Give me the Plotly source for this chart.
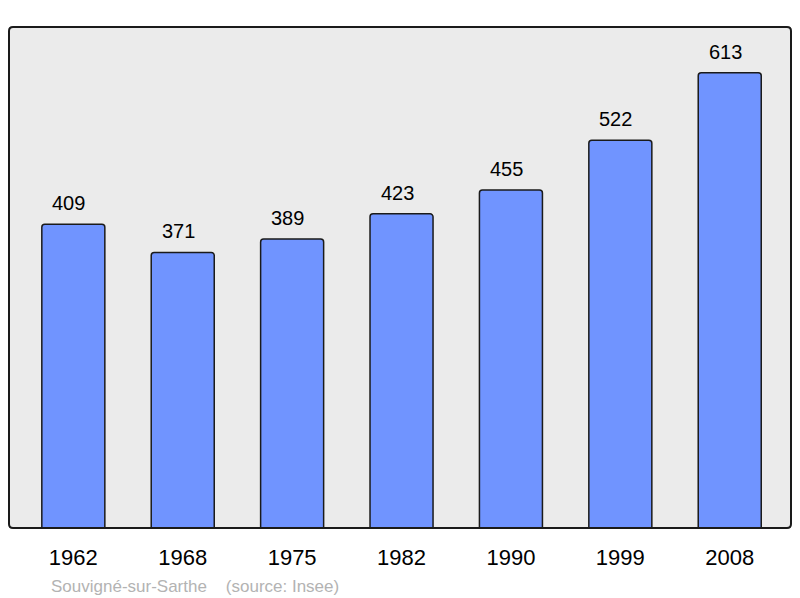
import plotly.graph_objects as go

years = ["1962", "1968", "1975", "1982", "1990", "1999", "2008"]
population = [409, 371, 389, 423, 455, 522, 613]
caption = "Souvigné-sur-Sarthe    (source: Insee)"

OFF = 8  # page body margin
W, H = 800 - OFF, 598 - OFF
L, R, T, B = 9 - OFF, 9, 27 - OFF, 70
pw, ph = W - L - R, H - T - B

FONT = "Liberation Sans, Arial, sans-serif"

fig = go.Figure()
fig.add_trace(go.Bar(
    x=years, y=population, width=0.576,
    marker=dict(color="#7094ff", line=dict(color="#1a1a1a", width=1.5), cornerradius=3),
    hoverinfo="skip",
))

annotations = []
for i, v in enumerate(population):
    annotations.append(dict(
        x=i, y=v, xref="x", yref="y", text=str(v), showarrow=False,
        yanchor="bottom", yshift=8, xshift=-4.5,
        font=dict(family=FONT, size=20, color="#000"),
    ))
annotations.append(dict(
    x=(48.5 - 9) / pw, y=(528 - 586) / ph, xref="paper", yref="paper",
    text=caption, showarrow=False, xanchor="left", yanchor="middle",
    font=dict(family=FONT, size=17, color="#b3b3b3"),
))

# rounded frame in paper coordinates
r = 4
rx, ry = r / pw, r / ph
path = (f"M {rx},0 L {1-rx},0 Q 1,0 1,{ry} L 1,{1-ry} Q 1,1 {1-rx},1 "
        f"L {rx},1 Q 0,1 0,{1-ry} L 0,{ry} Q 0,0 {rx},0 Z")

fig.update_layout(
    width=W, height=H,
    margin=dict(l=L, r=R, t=T, b=B, pad=0),
    paper_bgcolor="white", plot_bgcolor="#ebebeb",
    showlegend=False,
    xaxis=dict(type="category", range=[-0.588, 6.56], showgrid=False, zeroline=False,
               showline=False, ticks="outside", ticklen=10, tickcolor="rgba(0,0,0,0)",
               tickfont=dict(family=FONT, size=22, color="#000"),
               fixedrange=True),
    yaxis=dict(range=[0, 674.5], visible=False, fixedrange=True),
    annotations=annotations,
    shapes=[dict(type="path", path=path, xref="paper", yref="paper",
                 line=dict(color="#1a1a1a", width=2), layer="above")],
)

fig.write_html("out.html")
